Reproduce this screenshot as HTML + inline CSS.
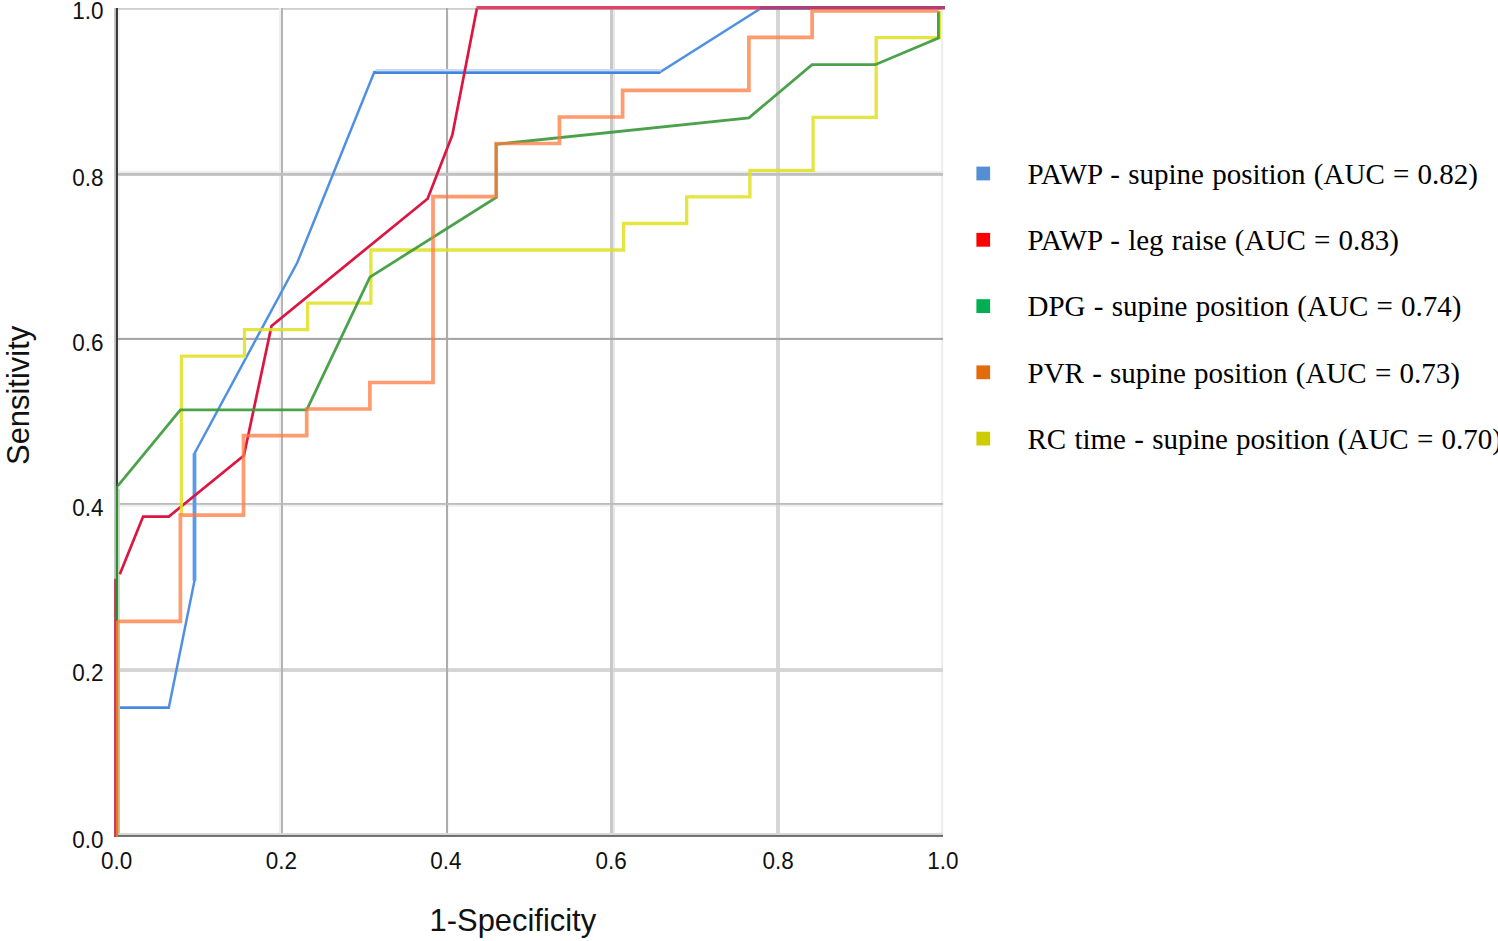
<!DOCTYPE html>
<html lang="en"><head><meta charset="utf-8"><title>ROC curves</title>
<style>
html,body{margin:0;padding:0;background:#fff;}
body{width:1498px;height:941px;overflow:hidden;}
svg{display:block;}
.tick{font-family:"Liberation Sans",sans-serif;font-size:22.5px;fill:#111;}
.axl{font-family:"Liberation Sans",sans-serif;font-size:32px;fill:#111;}
.leg{font-family:"Liberation Serif",serif;font-size:29px;word-spacing:1px;fill:#000;}
.c{fill:none;stroke-linejoin:miter;stroke-linecap:butt;}
</style></head><body>
<svg width="1498" height="941" viewBox="0 0 1498 941">
<defs><filter id="soft" x="0" y="0" width="1498" height="941" filterUnits="userSpaceOnUse"><feGaussianBlur stdDeviation="0.45"/></filter></defs>
<rect width="1498" height="941" fill="#ffffff"/>
<g id="grid">
<rect x="118.00" y="8.00" width="2.00" height="825.00" fill="#f4f4f4"/>
<rect x="118.00" y="8.00" width="825.00" height="1.85" fill="#d0d0d0"/>
<rect x="941.20" y="8.00" width="1.85" height="827.00" fill="#ececec"/>
<rect x="278.90" y="8.00" width="2.10" height="827.00" fill="#f0f0f0"/>
<rect x="613.00" y="8.00" width="2.00" height="827.00" fill="#e8e8e8"/>
<rect x="118.00" y="171.20" width="825.00" height="1.80" fill="#ebebeb"/>
<rect x="118.00" y="504.85" width="825.00" height="1.85" fill="#eeeeee"/>
<rect x="776.00" y="8.00" width="4.00" height="827.00" fill="#d6d6d6"/>
<rect x="118.00" y="668.10" width="825.00" height="3.85" fill="#d4d4d4"/>
<rect x="281.00" y="8.00" width="2.00" height="827.00" fill="#b4b4b4"/>
<rect x="446.00" y="8.00" width="2.10" height="827.00" fill="#acacac"/>
<rect x="610.00" y="8.00" width="3.00" height="827.00" fill="#c8c8c8"/>
<rect x="118.00" y="173.00" width="825.00" height="2.85" fill="#c0c0c0"/>
<rect x="118.00" y="337.85" width="825.00" height="2.15" fill="#a8a8a8"/>
<rect x="118.00" y="503.00" width="825.00" height="1.85" fill="#bcbcbc"/>
</g>
<g id="axes">
<rect x="114.20" y="8.00" width="1.80" height="829.00" fill="#b8b8b8"/>
<rect x="116.00" y="8.00" width="2.00" height="829.00" fill="#3a3a3a"/>
<rect x="114.50" y="833.00" width="828.55" height="2.00" fill="#d8d8d8"/>
<rect x="114.50" y="835.00" width="828.55" height="1.90" fill="#6a6a6a"/>
</g>
<g id="x0stack">
<rect x="114.10" y="578.80" width="1.90" height="258.20" fill="#c8385a"/>
<rect x="116.00" y="486.00" width="2.20" height="351.00" fill="#2e8b2e"/>
<rect x="118.20" y="489.00" width="1.70" height="344.00" fill="#c0dcc0"/>
<rect x="116.00" y="621.00" width="1.90" height="216.00" fill="#f07030"/>
<rect x="117.90" y="621.00" width="1.90" height="212.00" fill="#d4b870"/>
</g>
<g id="curves" class="c" filter="url(#soft)">
<path d="M120.0 707.8 L168.8 707.8 L194.5 580.7 L194.5 453.5 L297.2 262.8 L374.3 72.1 L660.2 72.1 L760.6 8.5 L939.4 8.5" stroke="#5090e4" stroke-width="2.5"/>
<path d="M375.8 70.3 L660.7 70.3" stroke="#c4daf8" stroke-width="2.7"/>
<path d="M374.3 72.8 L660.2 72.8" stroke="#4384dc" stroke-width="2.4"/>
<path d="M194.5 580.7 L194.5 453.5" stroke="#5a9ae8" stroke-width="3.8"/>
<path d="M120.0 707.8 L168.8 707.8" stroke="#4a8ae0" stroke-width="2.4"/>
<path d="M119.8 574.3 L143.1 516.6 L168.8 516.6 L243.9 455.5 L271.5 325.9 L427.6 198.7 L452.3 135.2 L477.0 8.0" stroke="#dc1440" stroke-width="2.7"/>
<path d="M476.4 7.8 L760.6 7.8" stroke="#dc4468" stroke-width="3.6"/>
<path d="M760.1 7.8 L945 7.8" stroke="#b43c74" stroke-width="3.6"/>
<path d="M181.4 515.5 L181.4 356.2 L244.5 356.2 L244.5 329.7 L307.7 329.7 L307.7 303.1 L370.9 303.1 L370.9 250.0 L623.6 250.0 L623.6 223.5 L686.7 223.5 L686.7 196.9 L749.9 196.9 L749.9 170.4 L813.1 170.4 L813.1 117.3 L876.2 117.3 L876.2 37.6 L939.4 37.6 L939.4 11.1" stroke="#e0e028" stroke-width="3.3" opacity="0.88"/>
<path d="M117.8 485.9 L180.4 409.8 L306.7 409.8 L369.9 277.1 L496.2 197.4 L496.2 144.3 L748.9 117.8 L812.1 64.7 L875.2 64.7 L938.4 38.1 L938.4 11.6" stroke="#3c9a3c" stroke-width="2.8" opacity="0.92"/>
<path d="M117.2 621.4 L180.4 621.4 L180.4 515.2 L243.5 515.2 L243.5 435.6 L306.7 435.6 L306.7 409.0 L369.9 409.0 L369.9 382.5 L433.0 382.5 L433.0 196.6 L496.2 196.6 L496.2 143.5 L559.4 143.5 L559.4 117.0 L622.6 117.0 L622.6 90.4 L748.9 90.4 L748.9 37.3 L812.1 37.3 L812.1 10.8 L938.4 10.8" stroke="#ff7a3c" stroke-width="3.7" opacity="0.75"/>
</g>
<g id="ticks" class="tick">
<text transform="translate(116.6 869.1) scale(1 1.10)" text-anchor="middle">0.0</text>
<text transform="translate(281.3 869.1) scale(1 1.10)" text-anchor="middle">0.2</text>
<text transform="translate(445.9 869.1) scale(1 1.10)" text-anchor="middle">0.4</text>
<text transform="translate(611.2 869.1) scale(1 1.10)" text-anchor="middle">0.6</text>
<text transform="translate(778.2 869.1) scale(1 1.10)" text-anchor="middle">0.8</text>
<text transform="translate(943.0 869.1) scale(1 1.10)" text-anchor="middle">1.0</text>
<text transform="translate(103.6 847.6) scale(1 1.10)" text-anchor="end">0.0</text>
<text transform="translate(103.6 681.0) scale(1 1.10)" text-anchor="end">0.2</text>
<text transform="translate(103.6 516.0) scale(1 1.10)" text-anchor="end">0.4</text>
<text transform="translate(103.6 350.9) scale(1 1.10)" text-anchor="end">0.6</text>
<text transform="translate(103.6 186.2) scale(1 1.10)" text-anchor="end">0.8</text>
<text transform="translate(103.6 18.9) scale(1 1.10)" text-anchor="end">1.0</text>
</g>
<g id="titles" class="axl">
<text x="429.6" y="930.6" textLength="166.5" lengthAdjust="spacingAndGlyphs">1-Specificity</text>
<text transform="translate(28.5 465.0) rotate(-90)" textLength="139.2" lengthAdjust="spacingAndGlyphs">Sensitivity</text>
</g>
<g id="legend" class="leg">
<rect x="976.4" y="166.6" width="13.7" height="13.8" fill="#558ed5"/>
<text x="1027.5" y="184.0">PAWP - supine position (AUC = 0.82)</text>
<rect x="976.4" y="232.9" width="13.7" height="13.8" fill="#ff0000"/>
<text x="1027.5" y="250.2">PAWP - leg raise (AUC = 0.83)</text>
<rect x="976.4" y="299.2" width="13.7" height="13.8" fill="#00b050"/>
<text x="1027.5" y="316.4">DPG - supine position (AUC = 0.74)</text>
<rect x="976.4" y="365.4" width="13.7" height="13.8" fill="#e36c0a"/>
<text x="1027.5" y="382.6">PVR - supine position (AUC = 0.73)</text>
<rect x="976.4" y="431.7" width="13.7" height="13.8" fill="#cccc00"/>
<text x="1027.5" y="448.8">RC time - supine position (AUC = 0.70)</text>
</g>
</svg>
</body></html>
